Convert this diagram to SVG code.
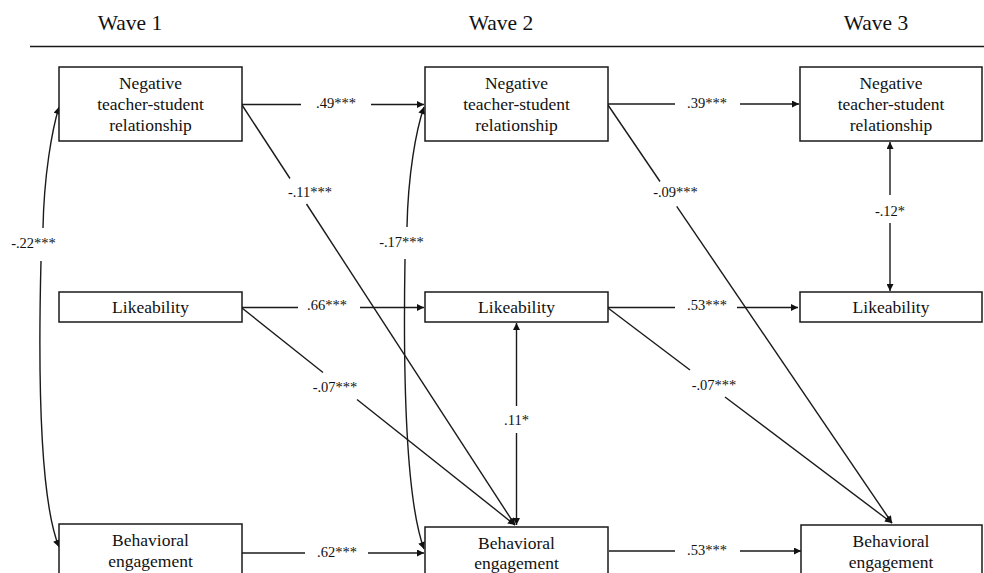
<svg xmlns="http://www.w3.org/2000/svg" width="984" height="573" viewBox="0 0 984 573">
<style>
text{font-family:"Liberation Serif","DejaVu Serif","Times New Roman",serif;fill:#111;text-anchor:middle}
.nt{font-size:17.5px}
.hd{font-size:21.5px}
.lb{font-size:14.5px}
.box{fill:#fff;stroke:#1a1a1a;stroke-width:1.5}
.ln{fill:none;stroke:#1a1a1a;stroke-width:1.4}
</style>
<defs>
<marker id="ah" viewBox="0 0 10 10" refX="10" refY="5" markerWidth="8" markerHeight="7" markerUnits="userSpaceOnUse" orient="auto-start-reverse">
<path d="M0,0 L10,5 L0,10 Z" fill="#111"/>
</marker>
</defs>
<rect width="984" height="573" fill="#fff"/>
<g id="header">
<text class="hd" x="130" y="30" font-family="Liberation Serif, serif">Wave 1</text>
<text class="hd" x="501" y="30" font-family="Liberation Serif, serif">Wave 2</text>
<text class="hd" x="876" y="30" font-family="Liberation Serif, serif">Wave 3</text>
<line x1="30" y1="46.5" x2="984" y2="46.5" stroke="#1a1a1a" stroke-width="1.6"/>
</g>
<g id="connectors">
<path class="ln" d="M242,104.5 H301"/>
<path class="ln" d="M371,104.5 H424" marker-end="url(#ah)"/>
<text class="lb" x="336" y="108">.49***</text>
<path class="ln" d="M608,104 H675"/>
<path class="ln" d="M740,104 H799" marker-end="url(#ah)"/>
<text class="lb" x="707" y="108">.39***</text>
<path class="ln" d="M242,307.5 H298"/>
<path class="ln" d="M360,307.5 H424" marker-end="url(#ah)"/>
<text class="lb" x="327" y="310">.66***</text>
<path class="ln" d="M608,307.5 H675"/>
<path class="ln" d="M737,307.5 H798" marker-end="url(#ah)"/>
<text class="lb" x="707" y="310">.53***</text>
<path class="ln" d="M242,553 H305"/>
<path class="ln" d="M368,553 H424" marker-end="url(#ah)"/>
<text class="lb" x="337" y="557">.62***</text>
<path class="ln" d="M609,551 H675"/>
<path class="ln" d="M740,551 H801" marker-end="url(#ah)"/>
<text class="lb" x="707" y="555">.53***</text>
<path class="ln" d="M242,105 L290,178.5"/>
<path class="ln" d="M306.5,204 L515,525" marker-end="url(#ah)"/>
<text class="lb" x="310" y="197">-.11***</text>
<path class="ln" d="M242,308 L323,372.5"/>
<path class="ln" d="M357,399.5 L515,525" marker-end="url(#ah)"/>
<text class="lb" x="335" y="392">-.07***</text>
<path class="ln" d="M608,105 L660,181.5"/>
<path class="ln" d="M676.7,206.3 L892,523" marker-end="url(#ah)"/>
<text class="lb" x="675.5" y="197">-.09***</text>
<path class="ln" d="M608,308 L690,370"/>
<path class="ln" d="M725,397 L892,523" marker-end="url(#ah)"/>
<text class="lb" x="714" y="390">-.07***</text>
<path class="ln" d="M516.5,406 V323" marker-end="url(#ah)"/>
<path class="ln" d="M516.5,433 V525" marker-end="url(#ah)"/>
<text class="lb" x="516.5" y="425">.11*</text>
<path class="ln" d="M890,195 V142" marker-end="url(#ah)"/>
<path class="ln" d="M890,223 V291" marker-end="url(#ah)"/>
<text class="lb" x="890" y="216">-.12*</text>
<path class="ln" d="M43,228 C44,175 52,130 59,107" marker-end="url(#ah)"/>
<path class="ln" d="M41,261 C38,380 40,500 59,547" marker-end="url(#ah)"/>
<text class="lb" x="33.5" y="248">-.22***</text>
<path class="ln" d="M407,227 C408,175 416,130 424,107" marker-end="url(#ah)"/>
<path class="ln" d="M405,259 C403,380 406,500 424,549" marker-end="url(#ah)"/>
<text class="lb" x="401.5" y="247">-.17***</text>
</g>
<g id="ntsr1"><rect class="box" x="59" y="67" width="183" height="74"/>
<text class="nt" x="150.5" y="89">Negative</text><text class="nt" x="150.5" y="110">teacher-student</text><text class="nt" x="150.5" y="131">relationship</text></g>
<g id="ntsr2"><rect class="box" x="425" y="67" width="183" height="74"/>
<text class="nt" x="516.5" y="89">Negative</text><text class="nt" x="516.5" y="110">teacher-student</text><text class="nt" x="516.5" y="131">relationship</text></g>
<g id="ntsr3"><rect class="box" x="800" y="67" width="182" height="74"/>
<text class="nt" x="891" y="89">Negative</text><text class="nt" x="891" y="110">teacher-student</text><text class="nt" x="891" y="131">relationship</text></g>
<g id="like1"><rect class="box" x="59" y="292" width="183" height="30"/>
<text class="nt" x="150.5" y="313">Likeability</text></g>
<g id="like2"><rect class="box" x="425" y="292" width="183" height="30"/>
<text class="nt" x="516.5" y="313">Likeability</text></g>
<g id="like3"><rect class="box" x="800" y="292" width="182" height="30"/>
<text class="nt" x="891" y="313">Likeability</text></g>
<g id="beh1"><rect class="box" x="59" y="524" width="183" height="60"/>
<text class="nt" x="150.5" y="546">Behavioral</text><text class="nt" x="150.5" y="567">engagement</text></g>
<g id="beh2"><rect class="box" x="425" y="527" width="183" height="60"/>
<text class="nt" x="516.5" y="549">Behavioral</text><text class="nt" x="516.5" y="569">engagement</text></g>
<g id="beh3"><rect class="box" x="801" y="525" width="181" height="60"/>
<text class="nt" x="891" y="547">Behavioral</text><text class="nt" x="891" y="568">engagement</text></g>
</svg>
